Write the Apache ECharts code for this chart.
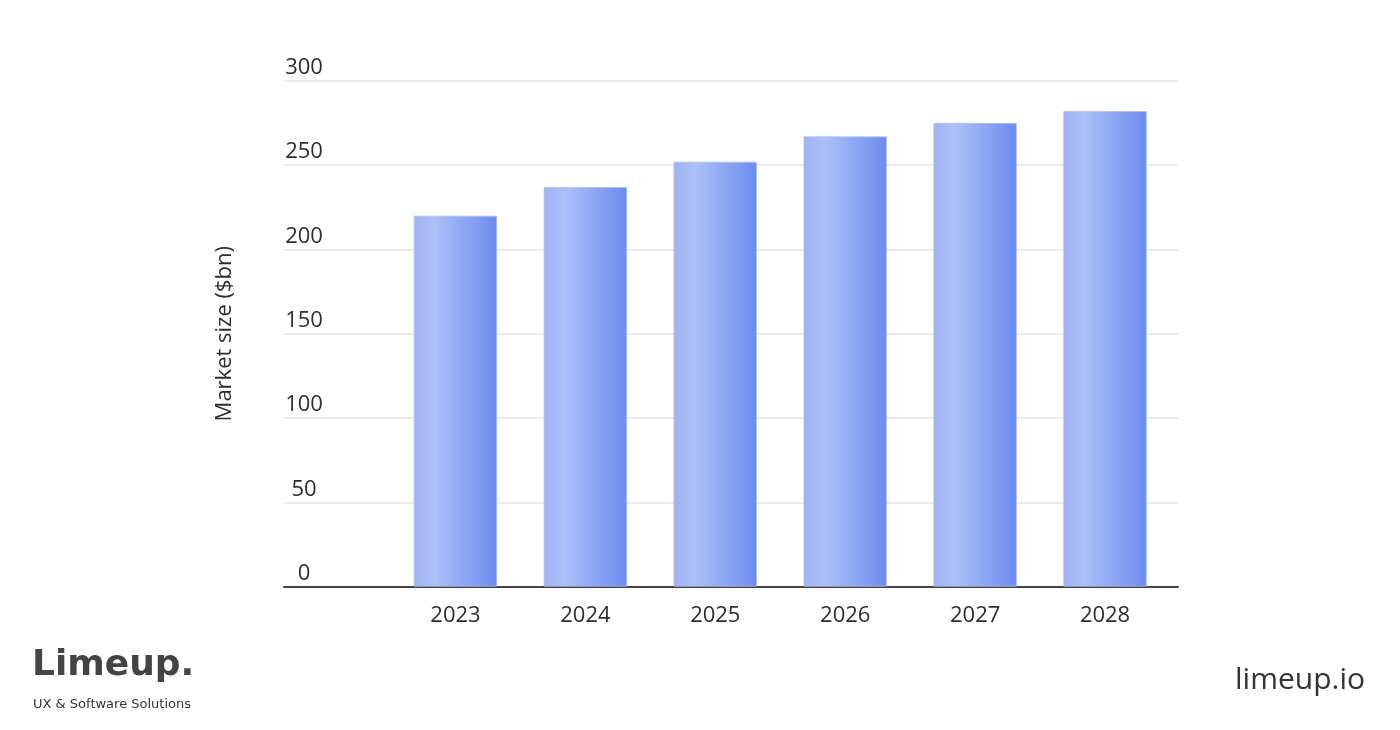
<!DOCTYPE html>
<html>
<head>
<meta charset="utf-8">
<script src="https://cdn.jsdelivr.net/npm/echarts@6/dist/echarts.min.js"></script>
<style>
html,body{margin:0;padding:0;background:#fff;}
#chart{width:1400px;height:730px;}
</style>
</head>
<body>
<div id="chart"></div>
<script>
var categories = ['2023', '2024', '2025', '2026', '2027', '2028'];
var marketSize = [220, 237, 252, 267, 275, 282];
var yTicks = { min: 0, max: 300, interval: 50 };
var yAxisName = 'Market size ($bn)';

var chart = echarts.init(document.getElementById('chart'));
var FONT = '"Open Sans", "Noto Sans", sans-serif';
var barGradient = new echarts.graphic.LinearGradient(0, 0, 1, 0, [
  { offset: 0, color: '#a1b1f2' },
  { offset: 0.25, color: '#adc0f8' },
  { offset: 1, color: '#6c8bee' }
]);

chart.setOption({
  backgroundColor: '#ffffff',
  animation: false,
  grid: [
    { left: 284, right: 222, top: 80.7, bottom: 143.3 },
    { left: 390.5, right: 230, top: 80.7, bottom: 143.3 }
  ],
  xAxis: [
    {
      gridIndex: 0, type: 'category', data: [''],
      axisLine: { show: true, lineStyle: { color: '#444', width: 2 } },
      axisTick: { show: false }, axisLabel: { show: false }, splitLine: { show: false }
    },
    {
      gridIndex: 1, type: 'category', data: categories,
      axisLine: { show: false }, axisTick: { show: false },
      axisLabel: { color: '#2e2e2e', fontSize: 22, fontFamily: FONT, margin: 18 },
      splitLine: { show: false }
    }
  ],
  yAxis: [
    {
      gridIndex: 0, type: 'value', min: yTicks.min, max: yTicks.max, interval: yTicks.interval,
      name: yAxisName, nameLocation: 'middle', nameGap: 48, nameRotate: 90,
      nameTextStyle: { color: '#2e2e2e', fontSize: 22, fontFamily: FONT },
      axisLine: { show: false }, axisTick: { show: false },
      axisLabel: { inside: true, margin: 20, align: 'center', verticalAlign: 'bottom',
        padding: [0, 0, 2, 0], color: '#2e2e2e', fontSize: 22, fontFamily: FONT },
      splitLine: { show: true, lineStyle: { color: '#e4e4e4', width: 1.5 } }
    },
    {
      gridIndex: 1, type: 'value', min: yTicks.min, max: yTicks.max, interval: yTicks.interval,
      show: false, splitLine: { show: false }
    }
  ],
  series: [
    {
      type: 'bar', xAxisIndex: 1, yAxisIndex: 1, data: marketSize,
      barWidth: 83.5,
      itemStyle: { color: barGradient, borderColor: 'rgba(170,190,250,0.8)', borderWidth: 1 },
      z: 1
    }
  ],
  graphic: [
    { type: 'text', left: 32, top: 648,
      style: { text: 'Limeup.', fill: '#444', font: 'bold 36px "DejaVu Sans", sans-serif' } },
    { type: 'text', left: 33, top: 698,
      style: { text: 'UX & Software Solutions', fill: '#333', font: '500 13px "DejaVu Sans", sans-serif' } },
    { type: 'text', right: 35, top: 665,
      style: { text: 'limeup.io', fill: '#333', font: '30px "Open Sans", sans-serif' } }
  ]
});
</script>
</body>
</html>
